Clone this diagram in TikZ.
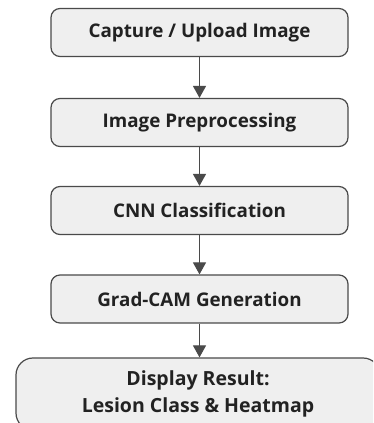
\documentclass[tikz,border=0pt]{standalone}
\usepackage{fontspec}
\setmainfont{Open Sans}
\usetikzlibrary{arrows.meta}
\definecolor{boxfill}{HTML}{EFEFEF}
\definecolor{boxline}{HTML}{4A4A4A}
\definecolor{txt}{HTML}{222222}
\tikzset{
  stepbox/.style={draw=boxline, fill=boxfill, line width=1.2pt, rounded corners=9pt,
    minimum width=297pt, minimum height=48pt, inner sep=0pt, text=txt,
    font=\bfseries\fontsize{18.8}{20}\selectfont},
  endbox/.style={draw=boxline, fill=boxfill, line width=1.2pt, rounded corners=17pt,
    minimum width=364pt, minimum height=72pt, inner sep=0pt, text=txt, align=center,
    font=\bfseries\fontsize{19.5}{27}\selectfont},
  flow/.style={draw=boxline, line width=1.2pt, -{Triangle[length=12pt,width=13pt]}, shorten >=0pt}
}
\begin{document}
\begin{tikzpicture}[x=1pt,y=1pt]
\useasboundingbox (0,0) rectangle (373,423);
\fill[white] (0,0) rectangle (373,423);
\begin{scope}
\clip (0,0) rectangle (373,423);
\node[stepbox] (a) at (199.5,390.5) {Capture / Upload Image};
\node[stepbox] (b) at (199.5,300.5) {Image Preprocessing};
\node[stepbox] (c) at (199.5,212.5) {CNN Classification};
\node[stepbox] (d) at (199.5,124) {Grad-CAM Generation};
\node[endbox] (e) at (198,29) {Display Result:\\Lesion Class \& Heatmap};
\draw[flow] (a.south) -- (b.north);
\draw[flow] (b.south) -- (c.north);
\draw[flow] (c.south) -- (d.north);
\draw[flow] (d.south) -- (d.south |- e.north);
\end{scope}
\end{tikzpicture}
\end{document}
